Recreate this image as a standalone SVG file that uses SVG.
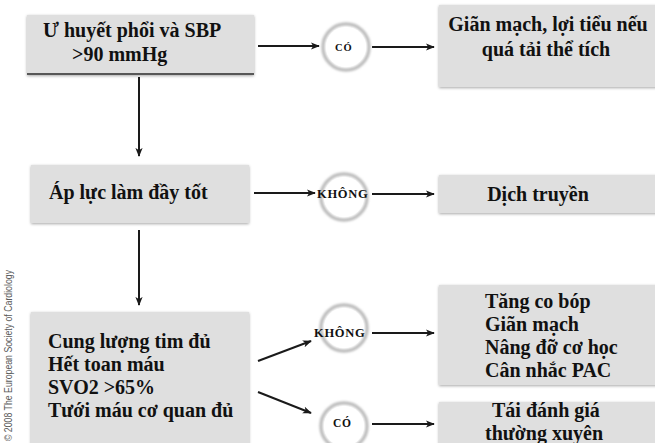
<svg xmlns="http://www.w3.org/2000/svg" width="655" height="443" viewBox="0 0 655 443">
  <defs>
    <filter id="soft" x="-10%" y="-20%" width="120%" height="140%">
      <feGaussianBlur in="SourceAlpha" stdDeviation="1.6" result="b"/>
      <feOffset dx="0" dy="0.5" in="b" result="o"/>
      <feComponentTransfer in="o" result="s"><feFuncA type="linear" slope="0.35"/></feComponentTransfer>
      <feMerge><feMergeNode in="s"/><feMergeNode in="SourceGraphic"/></feMerge>
    </filter>
    <filter id="ring" x="-30%" y="-30%" width="160%" height="160%">
      <feGaussianBlur stdDeviation="1.2"/>
    </filter>
    <marker id="arr" viewBox="0 0 10 10" refX="9" refY="5" markerWidth="9" markerHeight="9" markerUnits="userSpaceOnUse" orient="auto">
      <path d="M0,1 L10,5 L0,9 L2.5,5 Z" fill="#1a1a1a"/>
    </marker>
  </defs>
  <style>
    .box { fill: #dfdfdf; filter: url(#soft); }
    .ringc { fill: #ffffff; stroke: #bdbdbd; stroke-width: 3.5; filter: url(#ring); }
    .disc { fill: #ffffff; }
    .ln { stroke: #1a1a1a; stroke-width: 2; fill: none; marker-end: url(#arr); }
  </style>

  <rect width="655" height="443" fill="#ffffff"/>

  <!-- connectors -->
  <g id="connectors">
    <line class="ln" x1="258" y1="46" x2="319" y2="46"/>
    <line class="ln" x1="372" y1="47" x2="434" y2="47"/>
    <line class="ln" x1="139" y1="77" x2="139" y2="156"/>
    <line class="ln" x1="254" y1="193" x2="315" y2="193"/>
    <line class="ln" x1="372" y1="194" x2="434" y2="194"/>
    <line class="ln" x1="139" y1="230" x2="139" y2="305"/>
    <line class="ln" x1="258" y1="361" x2="311" y2="341"/>
    <line class="ln" x1="258" y1="392" x2="311" y2="413"/>
    <line class="ln" x1="372" y1="333" x2="434" y2="333"/>
    <line class="ln" x1="372" y1="424" x2="434" y2="424"/>
  </g>

  <!-- all node text: bold Times-metric serif -->
  <g font-family="Liberation Serif, serif" font-weight="bold" fill="#111111">

    <!-- first decision row -->
    <g id="congestion" font-size="20">
      <rect class="box" x="27" y="15" width="227" height="60"/>
      <line x1="27" y1="74" x2="254" y2="74" stroke="#2a2a2a" stroke-width="1.6"/>
      <text x="43" y="37">Ư huyết phổi và SBP</text>
      <text x="72" y="61">&gt;90 mmHg</text>
    </g>
    <g id="yes1" font-size="10.5" letter-spacing="0.8">
      <circle class="ringc" cx="346" cy="47" r="23"/>
      <circle class="disc" cx="346" cy="47" r="20"/>
      <text x="335" y="51">CÓ</text>
    </g>
    <g id="vasodilator" font-size="20">
      <rect class="box" x="439" y="5" width="220" height="82"/>
      <text x="548" y="31" text-anchor="middle">Giãn mạch, lợi tiểu nếu</text>
      <text x="546" y="56" text-anchor="middle">quá tải thể tích</text>
    </g>

    <!-- second decision row -->
    <g id="filling" font-size="20">
      <rect class="box" x="31" y="165" width="218" height="58"/>
      <text x="49" y="199">Áp lực làm đầy tốt</text>
    </g>
    <g id="no1" font-size="12.5" letter-spacing="0.7">
      <circle class="ringc" cx="344" cy="197" r="23"/>
      <circle class="disc" cx="344" cy="197" r="20"/>
      <text x="317" y="198">KHÔNG</text>
    </g>
    <g id="fluids" font-size="20">
      <rect class="box" x="439" y="175" width="220" height="38"/>
      <text x="538" y="201" text-anchor="middle">Dịch truyền</text>
    </g>

    <!-- third decision row -->
    <g id="output" font-size="20">
      <rect class="box" x="31" y="312" width="218" height="140"/>
      <text x="48" y="348">Cung lượng tim đủ</text>
      <text x="48" y="371">Hết toan máu</text>
      <text x="48" y="394">SVO2 &gt;65%</text>
      <text x="48" y="417">Tưới máu cơ quan đủ</text>
    </g>
    <g id="no2" font-size="12.5" letter-spacing="0.7">
      <circle class="ringc" cx="344" cy="328" r="23"/>
      <circle class="disc" cx="344" cy="328" r="20"/>
      <text x="314" y="337">KHÔNG</text>
    </g>
    <g id="inotropes" font-size="20">
      <rect class="box" x="439" y="285" width="220" height="100"/>
      <text x="485" y="308">Tăng co bóp</text>
      <text x="485" y="331">Giãn mạch</text>
      <text x="485" y="354">Nâng đỡ cơ học</text>
      <text x="485" y="377">Cân nhắc PAC</text>
    </g>
    <g id="yes2" font-size="11.5" letter-spacing="0.8">
      <circle class="ringc" cx="344" cy="426" r="23"/>
      <circle class="disc" cx="344" cy="426" r="20"/>
      <text x="333" y="427">CÓ</text>
    </g>
    <g id="reassess" font-size="20">
      <rect class="box" x="439" y="402" width="220" height="50"/>
      <text x="492" y="417">Tái đánh giá</text>
      <text x="485" y="440">thường xuyên</text>
    </g>
  </g>

  <!-- copyright line -->
  <text font-family="Liberation Sans, Arial, sans-serif" font-size="10" fill="#5a5a5a" transform="translate(12,441) rotate(-90)" textLength="171" lengthAdjust="spacingAndGlyphs">© 2008 The European Society of Cardiology</text>
</svg>
